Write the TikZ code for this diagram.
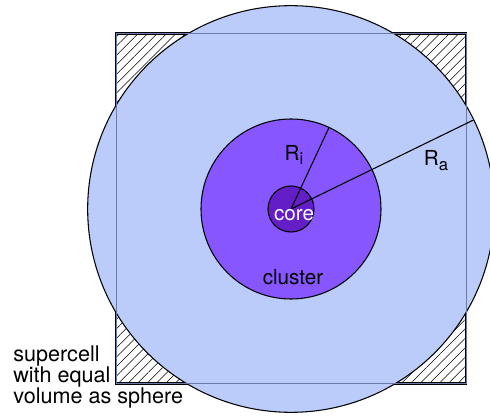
\documentclass[tikz,border=0pt]{standalone}
\usepackage{fontspec}
\setmainfont{TeX Gyre Heros}
\usetikzlibrary{patterns.meta}
\definecolor{spherefill}{RGB}{187,204,250}
\definecolor{clusterfill}{RGB}{136,86,255}
\definecolor{corefill}{RGB}{100,30,200}
\definecolor{cellline}{RGB}{108,122,168}
\newcommand{\lowidx}[1]{\raisebox{-0.45ex}{\fontsize{12.5}{12.5}\selectfont #1}}
\begin{document}
\begin{tikzpicture}[x=0.75pt, y=-0.75pt,
    ball/.style={circle, draw=black, line width=0.8pt, inner sep=0pt, outer sep=0pt},
    cell/.style={rectangle, inner sep=0pt, outer sep=0pt, minimum size=262.5pt},
    radius line/.style={draw=black, line width=0.8pt},
    lbl/.style={font=\fontsize{15.5}{16}\selectfont, inner sep=0pt},
]
\useasboundingbox (0,0) rectangle (490,417);
\begin{scope}
\clip (0,0) rectangle (490,417);
% supercell with hatched corners
\node[cell, draw=black, line width=1.8pt, pattern={Lines[angle=45, distance=5pt, line width=0.4pt]}] (cellbox) at (291,208.5) {};
% spheres
\node[ball, fill=spherefill, minimum size=305pt] (sphere) at (291,209) {};
\node[cell, draw=cellline, line width=0.7pt] (cellfront) at (291,208.5) {};
\node[ball, fill=clusterfill, minimum size=135pt] (cluster) at (291,209) {};
\node[ball, fill=corefill, minimum size=34.5pt] (core) at (291,209) {};
% radii
\draw[radius line] (core.center) -- (cluster.65);
\draw[radius line] (core.center) -- (sphere.26.8);
\end{scope}
\node[lbl] (ri) at (294,155) {R\lowidx{i}};
\node[lbl] (ra) at (436,161) {R\lowidx{a}};
\node[lbl, text=white] (corelbl) at (294,215) {core};
\node[lbl] (clusterlbl) at (293,277) {cluster};
\node[lbl, font=\fontsize{16.2}{15.75}\selectfont, align=left, anchor=west] (note) at (13,377) {supercell\\with equal\\volume as sphere};
\end{tikzpicture}
\end{document}
